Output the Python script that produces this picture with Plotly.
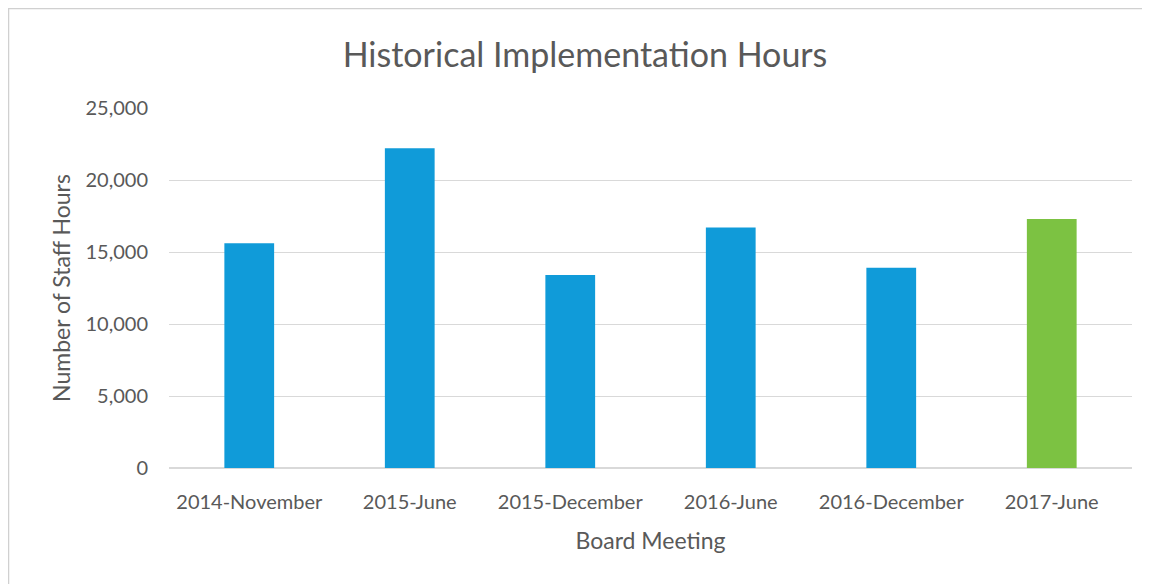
import plotly.graph_objects as go

categories = ["2014-November", "2015-June", "2015-December", "2016-June", "2016-December", "2017-June"]
hours = [15600, 22200, 13400, 16700, 13900, 17300]
bar_colors = ["#109BD9", "#109BD9", "#109BD9", "#109BD9", "#109BD9", "#7CC242"]
tick_vals = [0, 5000, 10000, 15000, 20000, 25000]
tick_text = ["0", "5,000", "10,000", "15,000", "20,000", "25,000"]

font_family = "Lato, 'Open Sans', sans-serif"
txt = "#595959"

fig = go.Figure(go.Bar(x=categories, y=hours, marker=dict(color=bar_colors, line=dict(width=0)), width=0.31))

# page has an 8px body margin; figure coords = page coords - 8
W, H = 1142, 576
L, R, T, B = 161, 1142 - 1124, 100, 576 - 460
pw, ph = W - L - R, H - T - B

fig.update_layout(
    width=W, height=H,
    margin=dict(l=L, r=R, t=T, b=B),
    paper_bgcolor="white", plot_bgcolor="white",
    font=dict(family=font_family, color=txt, size=20),
    title=dict(text="Historical Implementation Hours", x=(585 - 8) / W, xanchor="center",
               y=1 - 47 / H, yanchor="middle", font=dict(size=34, color=txt)),
    showlegend=False,
)
fig.update_xaxes(
    title=dict(text="Board Meeting", font=dict(size=23, color=txt), standoff=20),
    tickfont=dict(size=20, color=txt), showline=False, ticks="", showgrid=False,
    ticklabelstandoff=20,
)
fig.update_yaxes(
    title=dict(text="Number of Staff Hours", font=dict(size=23, color=txt), standoff=8),
    range=[0, 25000], tickvals=tick_vals, ticktext=tick_text,
    tickfont=dict(size=20, color=txt), showgrid=True, gridcolor="#D9D9D9", gridwidth=1,
    zeroline=True, zerolinecolor="#D9D9D9", ticks="", ticklabelstandoff=20,
)
# chart frame border (light gray), top and left edges
fig.add_shape(type="line", xref="paper", yref="paper",
              x0=-L / pw, x1=1 + (R - 4) / pw, y0=1 + (T - 0.5) / ph, y1=1 + (T - 0.5) / ph,
              line=dict(color="#D0D0D0", width=1.5), layer="below")
fig.add_shape(type="line", xref="paper", yref="paper",
              x0=-(L - 0.5) / pw, x1=-(L - 0.5) / pw, y0=-B / ph, y1=1 + T / ph,
              line=dict(color="#D0D0D0", width=1.5), layer="below")

fig.write_html("out.html")
